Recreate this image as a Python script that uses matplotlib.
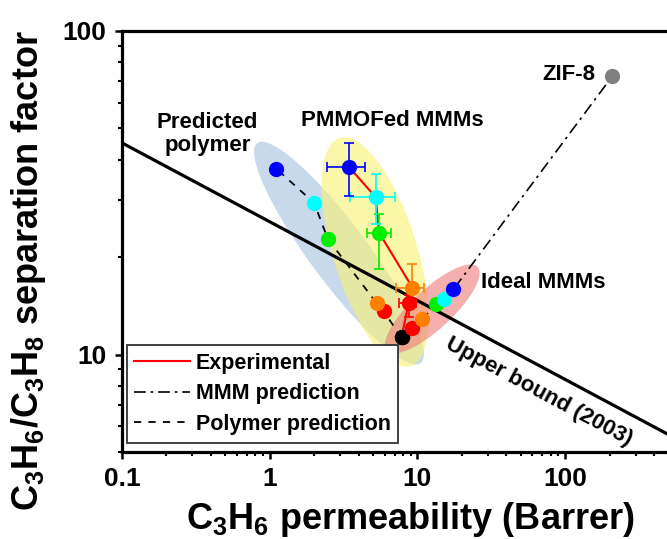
import numpy as np
import matplotlib
matplotlib.use('Agg')
import matplotlib.pyplot as plt
from matplotlib.ticker import FuncFormatter, NullFormatter
from matplotlib.lines import Line2D

# 폰트 설정
plt.rcParams['font.family'] = ['Liberation Sans', 'DejaVu Sans']
plt.rcParams['font.weight'] = 'bold'
plt.rcParams['mathtext.fontset'] = 'custom'
plt.rcParams['mathtext.rm'] = 'Liberation Sans:bold'
plt.rcParams['mathtext.bf'] = 'Liberation Sans:bold'
plt.rcParams['mathtext.default'] = 'bf'

# 1. data (0 loading -> highest loading)
point_colors = ['black', '#ff0000', '#ff8000', '#00ee00', '#00ffff', '#0000ff']

exp_perm = [7.8, 8.7, 9.25, 5.5, 5.2, 3.42]
exp_sel = [11.3, 14.4, 16.1, 23.8, 30.7, 38.1]
exp_perm_lo = [7.8, 7.55, 7.2, 4.52, 3.48, 2.43]
exp_perm_hi = [7.8, 9.85, 11.1, 6.67, 7.0, 4.38]
exp_sel_lo = [11.3, 13.1, 14.6, 18.4, 25.4, 31.0]
exp_sel_hi = [11.3, 15.3, 19.0, 27.2, 36.2, 45.2]

poly_perm = [7.8, 5.9, 5.3, 2.47, 2.0, 1.11]
poly_sel = [11.3, 13.6, 14.4, 22.8, 29.4, 37.5]

ideal_perm = [7.8, 9.25, 10.8, 13.4, 15.2, 17.5]
ideal_sel = [11.3, 12.1, 12.9, 14.3, 14.9, 15.9]

zif_perm = 208
zif_sel = 72.4

bound_perm = [0.1, 500]
bound_sel = [45.1, 5.66]

# 2. figure
fig = plt.figure(figsize=(6.67, 5.39), dpi=100)
ax = fig.add_axes([0.1829, 0.1614, 0.8193, 0.7811])
ax.set_xscale('log')
ax.set_yscale('log')
ax.set_xlim(0.1, 500)
ax.set_ylim(5, 100)


def ellipse_fill(x0, y0, x1, y1, ext0, ext1, minor, color, alpha):
    # ellipse drawn in screen space along the series, then back to data
    p = ax.transData.transform([(x0, y0), (x1, y1)])
    d = p[1] - p[0]
    u = d / np.hypot(*d)
    v = np.array([-u[1], u[0]])
    a0 = p[0] - u * ext0
    a1 = p[1] + u * ext1
    c = (a0 + a1) / 2
    a = np.hypot(*(a1 - a0)) / 2
    b = minor / 2
    t = np.linspace(0, 2 * np.pi, 200)
    pts = c + np.outer(a * np.cos(t), u) + np.outer(b * np.sin(t), v)
    xy = ax.transData.inverted().transform(pts)
    ax.fill(xy[:, 0], xy[:, 1], color=color, alpha=alpha, lw=0, zorder=1)


ellipse_fill(poly_perm[0], poly_sel[0], poly_perm[-1], poly_sel[-1], 32, 32, 58, '#a4c0e0', 0.6)
ellipse_fill(exp_perm[0], exp_sel[0], exp_perm[-1], exp_sel[-1], 30, 30, 84, '#f7f371', 0.6)
ellipse_fill(ideal_perm[0], ideal_sel[0], ideal_perm[-1], ideal_sel[-1], 20, 33, 40, '#ee7a7a', 0.6)

# upper bound
ax.plot(bound_perm, bound_sel, color='black', lw=2.3, zorder=2)

# lines
ax.plot(poly_perm, poly_sel, color='black', ls=(0, (4, 4)), lw=1.3, zorder=3)
ax.plot(ideal_perm + [zif_perm], ideal_sel + [zif_sel], color='black',
        ls=(0, (7, 3, 1.5, 3)), lw=1.2, zorder=3)
ax.plot(exp_perm, exp_sel, color='red', lw=1.5, zorder=3)

# error bars + points
for i, c in enumerate(point_colors):
    xerr = [[exp_perm[i] - exp_perm_lo[i]], [exp_perm_hi[i] - exp_perm[i]]]
    yerr = [[exp_sel[i] - exp_sel_lo[i]], [exp_sel_hi[i] - exp_sel[i]]]
    if i > 0:
        ax.errorbar(exp_perm[i], exp_sel[i], xerr=xerr, yerr=yerr, fmt='none',
                    ecolor=c, elinewidth=1.2, capsize=3.5, capthick=1.2, zorder=4)
    for px, py in [(exp_perm[i], exp_sel[i]), (poly_perm[i], poly_sel[i]),
                   (ideal_perm[i], ideal_sel[i])]:
        ax.plot(px, py, 'o', color=c, ms=11, mew=0, zorder=5)

ax.plot(zif_perm, zif_sel, 'o', color='#808080', ms=11, mew=0, zorder=5)

# 3. text labels
ax.text(0.38, 48.1, 'Predicted\npolymer', ha='center', va='center', fontsize=16,
        fontweight='bold', linespacing=1.15)
ax.text(6.8, 52.9, 'PMMOFed MMMs', ha='center', va='center', fontsize=16, fontweight='bold')
ax.text(160, 73.5, 'ZIF-8', ha='right', va='center', fontsize=16, fontweight='bold')
ax.text(71, 16.7, 'Ideal MMMs', ha='center', va='center', fontsize=16, fontweight='bold')

pb = ax.transData.transform(list(zip(bound_perm, bound_sel)))
angle = np.degrees(np.arctan2(pb[1][1] - pb[0][1], pb[1][0] - pb[0][0]))
ax.text(66, 7.7, 'Upper bound (2003)', ha='center', va='center', fontsize=16,
        fontweight='bold', rotation=angle, rotation_mode='anchor')

# 4. axes style
for s in ['left', 'bottom', 'top']:
    ax.spines[s].set_linewidth(2.3)
ax.spines['right'].set_visible(False)

ax.xaxis.set_major_formatter(FuncFormatter(lambda v, p: f'{v:g}'))
ax.yaxis.set_major_formatter(FuncFormatter(lambda v, p: f'{v:g}'))
ax.xaxis.set_minor_formatter(NullFormatter())
ax.yaxis.set_minor_formatter(NullFormatter())
ax.tick_params(which='major', direction='out', length=5, width=1.8, labelsize=19, pad=6,
               top=False, right=False)
ax.tick_params(which='minor', direction='out', length=3, width=1.5, top=False, right=False)
for lab in ax.get_xticklabels() + ax.get_yticklabels():
    lab.set_fontweight('bold')

ax.set_xlabel('C$_3$H$_6$ permeability (Barrer)', fontsize=26, fontweight='bold')
ax.set_ylabel('C$_3$H$_6$/C$_3$H$_8$ separation factor', fontsize=26, fontweight='bold')
ax.xaxis.set_label_coords(0.527, -0.115)
ax.yaxis.set_label_coords(-0.135, 0.43)

# 5. legend
handles = [Line2D([], [], color='red', lw=1.5),
           Line2D([], [], color='black', lw=1.2, ls=(0, (7, 3, 1.5, 3))),
           Line2D([], [], color='black', lw=1.3, ls=(0, (4, 4)))]
leg = ax.legend(handles, ['Experimental', 'MMM prediction', 'Polymer prediction'],
                loc='upper left', bbox_to_anchor=(0.009, 0.254), borderaxespad=0,
                fancybox=False, framealpha=1, edgecolor='#333333',
                handlelength=2.6, handletextpad=0.25, labelspacing=0.45,
                borderpad=0.35, prop={'weight': 'bold', 'size': 15.5})
leg.get_frame().set_linewidth(1.3)

plt.savefig('out.png', dpi=100)
